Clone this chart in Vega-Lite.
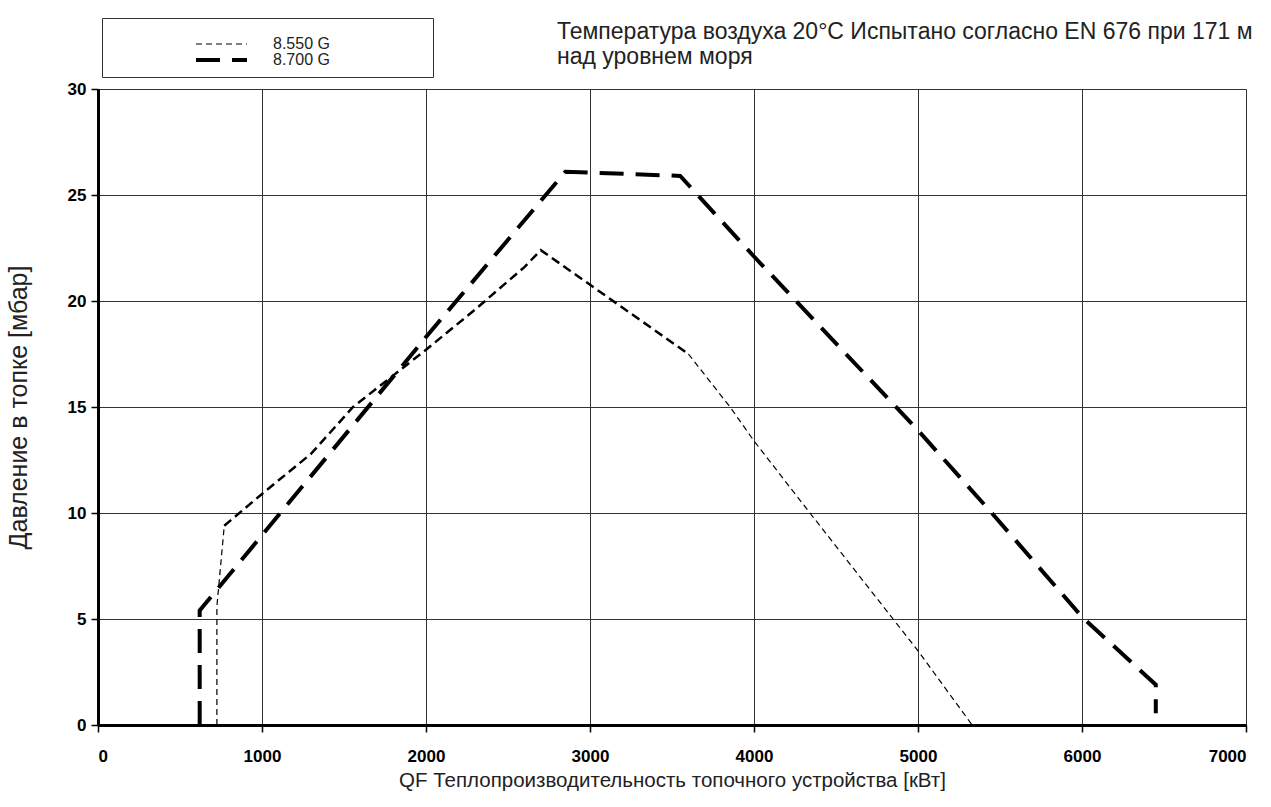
{
  "$schema": "https://vega.github.io/schema/vega-lite/v6.json",
  "width": 1148,
  "height": 636,
  "autosize": "none",
  "padding": {"left": 98, "top": 89, "right": 25, "bottom": 82},
  "background": "white",
  "config": {
    "font": "Liberation Sans",
    "view": {"stroke": null},
    "axis": {
      "gridColor": "#333333",
      "gridWidth": 1,
      "gridOpacity": 1,
      "domainColor": "black",
      "domainWidth": 3,
      "tickColor": "black",
      "tickWidth": 1.5,
      "tickSize": 7,
      "labelFont": "Liberation Sans",
      "labelFontWeight": "bold",
      "labelFontSize": 17,
      "labelColor": "black",
      "titleFont": "Liberation Sans",
      "titleFontWeight": "normal",
      "titleFontSize": 20.5,
      "titleColor": "#222222"
    }
  },
  "title": {
    "text": ["Температура воздуха 20°С Испытано согласно EN 676 при 171 м", "над уровнем моря"],
    "anchor": "start",
    "frame": "group",
    "dx": 459,
    "offset": -51,
    "fontSize": 23,
    "fontWeight": "normal",
    "font": "Liberation Sans",
    "color": "#222222",
    "lineHeight": 25
  },
  "data": {
    "values": [
      {"series": "8.700 G", "seg": "main", "o": 1, "x": 620, "y": 0},
      {"series": "8.700 G", "seg": "main", "o": 2, "x": 620, "y": 5.4},
      {"series": "8.700 G", "seg": "main", "o": 3, "x": 1000, "y": 8.95},
      {"series": "8.700 G", "seg": "main", "o": 4, "x": 2000, "y": 18.3},
      {"series": "8.700 G", "seg": "main", "o": 5, "x": 2850, "y": 26.1},
      {"series": "8.700 G", "seg": "main", "o": 6, "x": 3550, "y": 25.9},
      {"series": "8.700 G", "seg": "main", "o": 7, "x": 4000, "y": 22.1},
      {"series": "8.700 G", "seg": "main", "o": 8, "x": 5000, "y": 13.9},
      {"series": "8.700 G", "seg": "main", "o": 9, "x": 5450, "y": 10.0},
      {"series": "8.700 G", "seg": "main", "o": 10, "x": 6000, "y": 5.1},
      {"series": "8.700 G", "seg": "main", "o": 11, "x": 6450, "y": 1.9},
      {"series": "8.700 G", "seg": "main", "o": 12, "x": 6450, "y": 0.55},
      {"series": "8.550 G", "seg": "start", "o": 1, "x": 725, "y": 0},
      {"series": "8.550 G", "seg": "start", "o": 2, "x": 725, "y": 5.6},
      {"series": "8.550 G", "seg": "start", "o": 3, "x": 770, "y": 9.4},
      {"series": "8.550 G", "seg": "mid", "o": 1, "x": 770, "y": 9.4},
      {"series": "8.550 G", "seg": "mid", "o": 2, "x": 1000, "y": 10.9},
      {"series": "8.550 G", "seg": "mid", "o": 3, "x": 1300, "y": 12.8},
      {"series": "8.550 G", "seg": "mid", "o": 4, "x": 1555, "y": 15.0},
      {"series": "8.550 G", "seg": "mid", "o": 5, "x": 2000, "y": 17.7},
      {"series": "8.550 G", "seg": "mid", "o": 6, "x": 2300, "y": 19.6},
      {"series": "8.550 G", "seg": "mid", "o": 7, "x": 2600, "y": 21.6},
      {"series": "8.550 G", "seg": "mid", "o": 8, "x": 2700, "y": 22.4},
      {"series": "8.550 G", "seg": "mid", "o": 9, "x": 3600, "y": 17.5},
      {"series": "8.550 G", "seg": "end", "o": 1, "x": 3600, "y": 17.5},
      {"series": "8.550 G", "seg": "end", "o": 2, "x": 3854, "y": 15.0},
      {"series": "8.550 G", "seg": "end", "o": 3, "x": 4000, "y": 13.4},
      {"series": "8.550 G", "seg": "end", "o": 4, "x": 4341, "y": 10.0},
      {"series": "8.550 G", "seg": "end", "o": 5, "x": 4848, "y": 5.0},
      {"series": "8.550 G", "seg": "end", "o": 6, "x": 5000, "y": 3.5},
      {"series": "8.550 G", "seg": "end", "o": 7, "x": 5330, "y": 0}
    ]
  },
  "encoding": {
    "x": {
      "field": "x", "type": "quantitative",
      "scale": {"domain": [0, 7000], "nice": false},
      "axis": {"values": [0,1000,2000,3000,4000,5000,6000,7000], "format": "d", "title": "QF Теплопроизводительность топочного устройства [кВт]", "labelPadding": 16, "titlePadding": 6}
    },
    "y": {
      "field": "y", "type": "quantitative",
      "scale": {"domain": [0, 30], "nice": false},
      "axis": {"values": [0,5,10,15,20,25,30], "title": "Давление в топке [мбар]", "titleFontSize": 25, "labelPadding": 5, "titlePadding": 36}
    },
    "order": {"field": "o", "type": "quantitative"}
  },
  "layer": [
    {
      "transform": [{"filter": "datum.seg !== 'mid'"}],
      "mark": {"type": "line", "color": "black", "strokeCap": "butt"},
      "encoding": {
        "detail": {"field": "seg"},
        "strokeDash": {
          "field": "series", "type": "nominal",
          "scale": {"domain": ["8.550 G", "8.700 G"], "range": [[6, 4], [24, 12]]},
          "legend": {
            "title": " ",
            "titleFontSize": 10,
            "titlePadding": 0,
            "orient": "none",
            "legendX": 4,
            "legendY": -71,
            "strokeColor": "#333333",
            "padding": 9,
            "symbolType": "stroke",
            "symbolSize": 2600,
            "symbolOffset": 83,
            "labelOffset": 24,
            "labelFontSize": 16,
            "labelFont": "Liberation Sans",
            "labelColor": "#222222",
            "labelLimit": 300,
            "labelExpr": "pad(datum.label, 28, '\u00a0') + '\u200b'",
            "rowPadding": 0,
            "clipHeight": 14,
            "symbolStrokeColor": "black"
          }
        },
        "strokeWidth": {
          "field": "series", "type": "nominal",
          "scale": {"domain": ["8.550 G", "8.700 G"], "range": [1.2, 4]},
          "legend": null
        }
      }
    },
    {
      "transform": [{"filter": "datum.seg === 'mid'"}],
      "mark": {"type": "line", "color": "black", "strokeWidth": 2.5, "strokeDash": [9, 5], "strokeCap": "butt"},
      "encoding": {}
    }
  ]
}
